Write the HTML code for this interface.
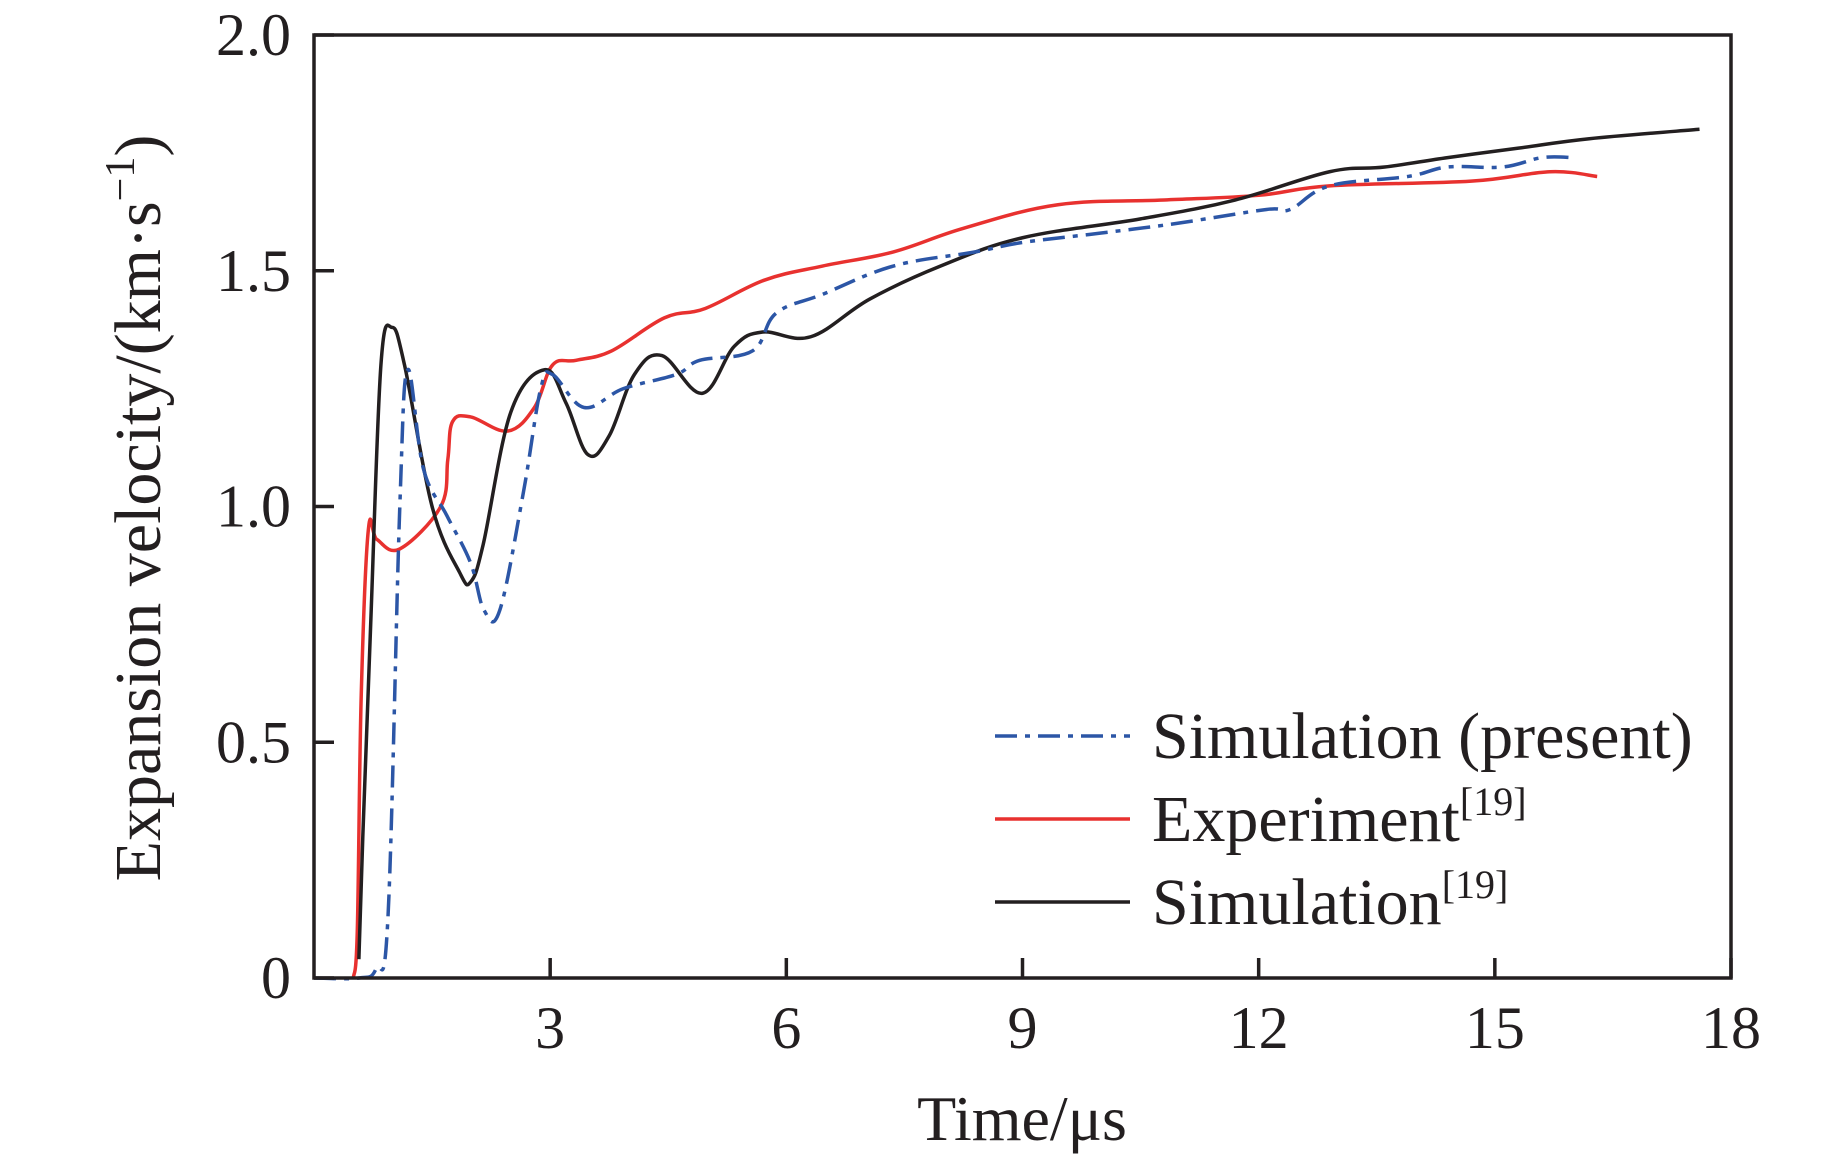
<!DOCTYPE html>
<html><head><meta charset="utf-8"><style>
html,body{margin:0;padding:0;background:#fff;}
svg{display:block;font-family:"Liberation Serif",serif;}
</style></head><body>
<svg id="chart" width="1843" height="1165" viewBox="0 0 1843 1165" xmlns="http://www.w3.org/2000/svg">
<g id="plot"></g>
</svg>
<script>
const xTicks=[3,6,9,12,15,18];
const yTicks=[0,0.5,1.0,1.5,2.0];
const yTickLabels=["0","0.5","1.0","1.5","2.0"];
const blackT=[0.57,0.62,0.72,0.85,0.99,1.15,1.5,1.85,1.99,2.15,2.5,2.93,3.2,3.48,3.75,4.07,4.42,4.93,5.34,5.7,6.31,7.06,7.96,9.0,10.5,11.7,12.9,13.6,14.4,15.3,16.2,17.6];
const blackV=[0.04,0.3,0.75,1.3,1.38,1.3,1.0,0.86,0.84,0.92,1.2,1.29,1.22,1.11,1.15,1.28,1.32,1.24,1.34,1.37,1.36,1.44,1.51,1.57,1.61,1.65,1.71,1.72,1.74,1.76,1.78,1.80];
const redT=[0.5,0.55,0.6,0.69,0.8,1.09,1.61,1.7,1.76,1.99,2.46,2.8,3.03,3.33,3.78,4.45,4.97,5.72,6.46,7.36,8.25,9.45,10.8,12.0,12.9,14.7,15.7,16.3];
const redV=[0,0.1,0.6,0.95,0.93,0.91,1.0,1.1,1.18,1.19,1.16,1.21,1.30,1.31,1.33,1.40,1.42,1.48,1.51,1.54,1.59,1.64,1.65,1.66,1.68,1.69,1.71,1.70];
const blueT=[0,0.57,0.79,0.94,1.09,1.19,1.39,1.69,1.99,2.16,2.36,2.66,2.88,3.03,3.43,3.93,4.6,4.9,5.57,5.87,6.46,7.36,8.4,9.0,10.0,10.94,12.1,12.4,12.9,13.9,14.4,15.1,15.6,16.0];
const blueV=[0,0,0.02,0.13,1.0,1.29,1.08,0.98,0.88,0.78,0.78,1.03,1.25,1.28,1.21,1.25,1.28,1.31,1.33,1.41,1.45,1.51,1.54,1.56,1.58,1.60,1.63,1.63,1.68,1.70,1.72,1.72,1.74,1.74];

const L=314,R=1731,T=35,B=978;
const sx=t=>L+(t/18)*(R-L);
const sy=v=>B-(v/2)*(B-T);
const NS="http://www.w3.org/2000/svg";
const g=document.getElementById('plot');
function mk(tag,attrs,parent){const e=document.createElementNS(NS,tag);for(const k in attrs)e.setAttribute(k,attrs[k]);(parent||g).appendChild(e);return e;}
function pathD(ts,vs){
  const p=ts.map((t,i)=>[sx(t),sy(vs[i])]);
  let d=`M${p[0][0]},${p[0][1]}`;
  for(let i=0;i<p.length-1;i++){
    const p0=p[i-1]||p[i],p1=p[i],p2=p[i+1],p3=p[i+2]||p[i+1];
    const k=0.18;
    d+=` C${p1[0]+(p2[0]-p0[0])*k},${p1[1]+(p2[1]-p0[1])*k} ${p2[0]-(p3[0]-p1[0])*k},${p2[1]-(p3[1]-p1[1])*k} ${p2[0]},${p2[1]}`;
  }
  return d;
}
let e;
e=mk('path',{d:pathD(redT,redV),fill:'none',stroke:'#e8312f','stroke-width':3.5});


e=mk('path',{d:pathD(blackT,blackV),fill:'none',stroke:'#231f20','stroke-width':3.5});


e=mk('path',{d:pathD(blueT,blueV),fill:'none',stroke:'#2c56a6','stroke-width':3.5,'stroke-dasharray':'22 8 5 8'});


e=mk('rect',{x:L,y:T,width:R-L,height:B-T,fill:'none',stroke:'#231f20','stroke-width':3.5});


xTicks.forEach(t=>{
  e=mk('line',{x1:sx(t),x2:sx(t),y1:B,y2:B-20,stroke:'#231f20','stroke-width':3.5});
  
  
  e=mk('text',{x:sx(t),y:B+70,'text-anchor':'middle','font-size':60,fill:'#231f20'});
  e.textContent=String(t);
  
  
});
yTicks.forEach((v,i)=>{
  e=mk('line',{x1:L,x2:L+20,y1:sy(v),y2:sy(v),stroke:'#231f20','stroke-width':3.5});
  
  
  e=mk('text',{x:291,y:sy(v)+20,'text-anchor':'end','font-size':60,fill:'#231f20'});
  e.textContent=yTickLabels[i];
  
  
});
e=mk('text',{x:1022,y:1140,'text-anchor':'middle','font-size':64,fill:'#231f20'});
e.textContent='Time/μs';


e=mk('text',{x:0,y:0,'text-anchor':'middle','font-size':66,fill:'#231f20',transform:'translate(160,508) rotate(-90)'});
e.innerHTML='Expansion velocity/(km·s<tspan dy="-26" font-size="42">−1</tspan><tspan dy="26">)</tspan>';


const leg=[['Simulation (present)','#2c56a6','22 8 5 8',''],['Experiment','#e8312f','','[19]'],['Simulation','#231f20','','[19]']];
leg.forEach((l,i)=>{
  const y=736+i*83;
  e=mk('line',{x1:995,x2:1130,y1:y,y2:y,stroke:l[1],'stroke-width':3.5,'stroke-dasharray':l[2]||'none'});
  
  
  e=mk('text',{x:1152,y:y+22,'font-size':66,fill:'#231f20'});
  e.innerHTML=l[0]+(l[3]?`<tspan dy="-26" font-size="40">${l[3]}</tspan>`:'');
  
  
});
</script>
</body></html>
